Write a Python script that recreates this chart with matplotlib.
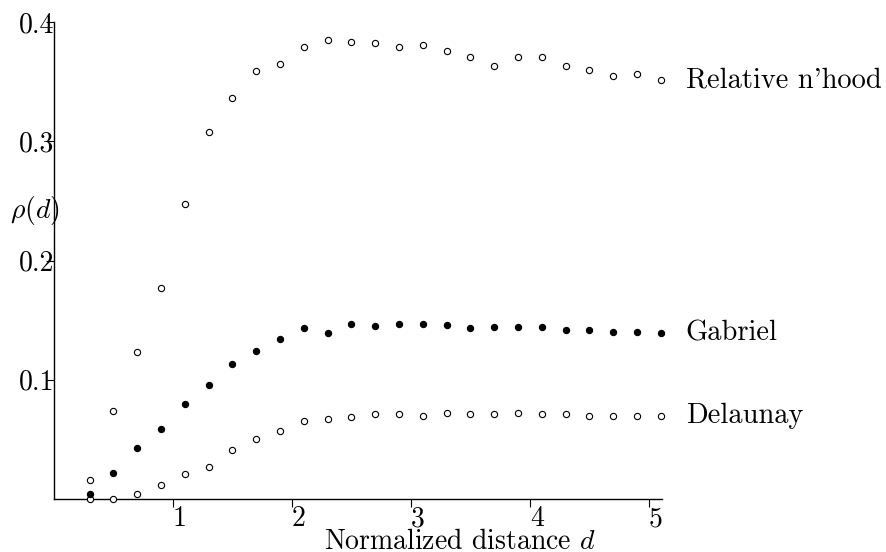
import matplotlib
matplotlib.use("Agg")
import matplotlib.pyplot as plt

plt.rcParams['font.family'] = 'cmr10'
plt.rcParams['mathtext.fontset'] = 'cm'
plt.rcParams['axes.unicode_minus'] = False

# normalized distance d
d = [0.3, 0.5, 0.7, 0.9, 1.1, 1.3, 1.5, 1.7, 1.9, 2.1, 2.3, 2.5, 2.7,
     2.9, 3.1, 3.3, 3.5, 3.7, 3.9, 4.1, 4.3, 4.5, 4.7, 4.9, 5.1]

rng = [0.016, 0.074, 0.123, 0.177, 0.247, 0.308, 0.336, 0.359, 0.365, 0.379,
       0.385, 0.383, 0.382, 0.379, 0.381, 0.376, 0.371, 0.363, 0.371, 0.371,
       0.363, 0.360, 0.355, 0.356, 0.351]

gabriel = [0.004, 0.022, 0.043, 0.059, 0.080, 0.096, 0.113, 0.124, 0.134, 0.143,
           0.139, 0.147, 0.145, 0.147, 0.147, 0.146, 0.143, 0.144, 0.144, 0.144,
           0.142, 0.142, 0.140, 0.140, 0.139]

delaunay = [0.000, 0.000, 0.004, 0.012, 0.021, 0.027, 0.041, 0.050, 0.057, 0.065,
            0.067, 0.069, 0.071, 0.071, 0.070, 0.072, 0.071, 0.071, 0.072, 0.071,
            0.071, 0.070, 0.070, 0.070, 0.070]

xticks = [1, 2, 3, 4, 5]
xticklabels = ["1", "2", "3", "4", "5"]
yticks = [0.1, 0.2, 0.3, 0.4]
yticklabels = ["0.1", "0.2", "0.3", "0.4"]

fig = plt.figure(figsize=(8.87, 5.52), dpi=100)
ax = fig.add_axes([54/887, 1 - 499/552, 608/887, 477/552])

ms = 4.5
ax.plot(d, rng, 'o', ms=ms, mfc='white', mec='black', mew=0.8, clip_on=False, zorder=3)
ax.plot(d, delaunay, 'o', ms=ms, mfc='white', mec='black', mew=0.8, clip_on=False, zorder=3)
ax.plot(d, gabriel, 'o', ms=ms, mfc='black', mec='black', mew=0.8, clip_on=False, zorder=4)

ax.text(5.31, rng[-1], "Relative n'hood", fontsize=20.5, va='center', ha='left')
ax.text(5.31, gabriel[-1], "Gabriel", fontsize=20.5, va='center', ha='left')
ax.text(5.31, delaunay[-1], "Delaunay", fontsize=20.5, va='center', ha='left')

ax.set_xlim(0, 5.11)
ax.set_ylim(0, 0.4)
for s in ['top', 'right']:
    ax.spines[s].set_visible(False)
for s in ['left', 'bottom']:
    ax.spines[s].set_linewidth(1.0)

ax.set_xticks(xticks)
ax.set_xticklabels(xticklabels, fontsize=20)
ax.set_yticks(yticks)
ax.set_yticklabels(yticklabels, fontsize=20)
ax.tick_params(axis='x', direction='out', length=6, width=0.8, pad=-1)
ax.tick_params(axis='y', direction='out', length=6, width=0.8, pad=-6)
for lab in ax.get_xticklabels():
    lab.set_horizontalalignment('left')

ax.set_xlabel("Normalized distance $d$", fontsize=20, va='center')
ax.xaxis.set_label_coords(0.668, -0.089)
ax.set_ylabel(r"$\rho(d)$", fontsize=20, rotation=0, va='center', ha='center')
ax.yaxis.set_label_coords(-0.031, 0.604)

fig.savefig("out.png", dpi=100)
